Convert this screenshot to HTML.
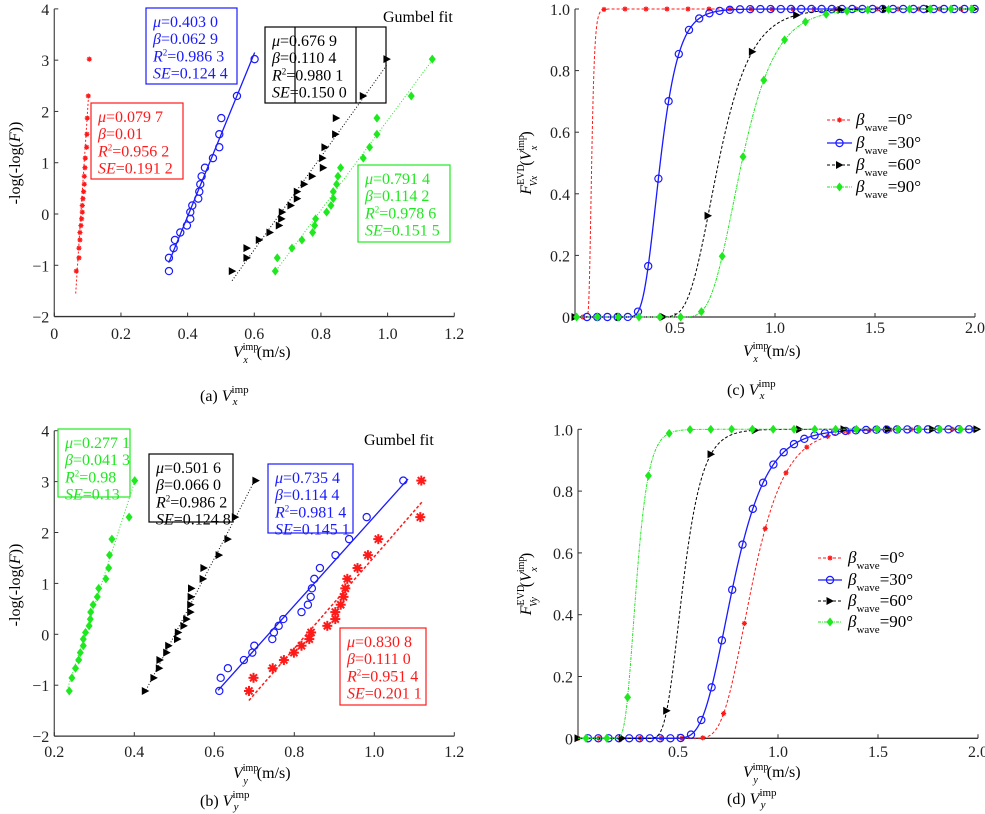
<!DOCTYPE html>
<html><head><meta charset="utf-8"><style>
html,body{margin:0;padding:0;background:#fff;}
svg{display:block;}
svg text{font-family:"Liberation Serif","DejaVu Serif",serif;}
</style></head><body>
<svg id="fig" xmlns="http://www.w3.org/2000/svg" width="985" height="814" viewBox="0 0 985 814" font-family="'Liberation Serif', 'DejaVu Serif', serif">
<rect width="985" height="814" fill="#fff"/>
</svg>
<script>
// ---------- DATA ----------
const reducedY = [-1.113,-0.855,-0.666,-0.506,-0.361,-0.225,-0.094,0.036,0.166,0.299,0.436,0.581,0.735,0.903,1.089,1.302,1.555,1.870,2.302,3.020];
const aRed   = [0.066,0.074,0.074,0.077,0.077,0.080,0.082,0.084,0.084,0.086,0.088,0.090,0.090,0.092,0.093,0.097,0.098,0.099,0.102,0.105];
const aBlue  = [0.344,0.344,0.358,0.362,0.378,0.398,0.408,0.408,0.414,0.432,0.435,0.438,0.442,0.452,0.476,0.495,0.495,0.501,0.548,0.601];
const aBlack = [0.534,0.578,0.578,0.615,0.647,0.675,0.682,0.684,0.710,0.729,0.729,0.750,0.774,0.807,0.805,0.812,0.844,0.846,0.927,0.998];
const aGreen = [0.663,0.669,0.713,0.743,0.775,0.781,0.784,0.817,0.830,0.837,0.837,0.847,0.851,0.859,0.927,0.946,0.968,0.968,1.071,1.134];
const bGreen = [0.2375,0.244,0.253,0.261,0.265,0.2725,0.2725,0.278,0.287,0.290,0.291,0.297,0.3075,0.311,0.329,0.336,0.338,0.344,0.387,0.401];
const bBlack = [0.4275,0.449,0.4625,0.464,0.481,0.486,0.508,0.510,0.524,0.531,0.541,0.541,0.542,0.543,0.572,0.574,0.612,0.634,0.6525,0.704];
const bBlue  = [0.6125,0.616,0.634,0.674,0.695,0.700,0.745,0.749,0.761,0.7725,0.818,0.834,0.841,0.844,0.850,0.864,0.903,0.937,0.981,1.0725];
const bRed   = [0.6867,0.698,0.746,0.774,0.799,0.818,0.8375,0.842,0.8825,0.9025,0.9025,0.916,0.923,0.9275,0.9325,0.958,0.984,1.010,1.115,1.1175];
const muX   = [0.0797,0.4030,0.6769,0.7914];
const betaX = [0.0100,0.0629,0.1104,0.1142];
const muY   = [0.8308,0.7354,0.5016,0.2771];
const betaY = [0.1110,0.1144,0.0660,0.0413];
const aFitRange = [[-1.55,2.3],[-0.95,3.15],[-1.3,2.9],[-1.15,3.0]];
const bFitRange = [[-1.3,2.6],[-1.1,3.05],[-1.15,3.05],[-1.1,3.0]];
const abYTicks = [-2,-1,0,1,2,3,4];
const aXTicks = [0,0.2,0.4,0.6,0.8,1.0,1.2];
const aXLabels = ["0","0.2","0.4","0.6","0.8","1.0","1.2"];
const bXTicks = [0.2,0.4,0.6,0.8,1.0,1.2];
const bXLabels = ["0.2","0.4","0.6","0.8","1.0","1.2"];
const cdXTicks = [0.5,1.0,1.5,2.0];
const cdXLabels = ["0.5","1.0","1.5","2.0"];
const cdYTicks = [0,0.2,0.4,0.6,0.8,1.0];
const cdYLabels = ["0","0.2","0.4","0.6","0.8","1.0"];

// ---------- HELPERS ----------
const NS="http://www.w3.org/2000/svg";
const FF="'Liberation Serif', 'DejaVu Serif', serif";
const svg=document.getElementById('fig');
function mk(tag,attrs,parent){const e=document.createElementNS(NS,tag);if(tag==='text')e.setAttribute('font-family',FF);for(const k in attrs)e.setAttribute(k,attrs[k]);(parent||svg).appendChild(e);return e;}
const COL={red:'#ff1a1a',blue:'#1a1aff',black:'#000',green:'#1ee81e'};

function marker(g,type,x,y,c,big){
  let e;
  if(type==='star'){
    const s=big?5:2.6;
    e=mk('g',{},g);
    mk('circle',{cx:x,cy:y,r:big?2.6:1.8,fill:c},e);
    for(let k=0;k<4;k++){const a=k*Math.PI/4;mk('line',{x1:x-s*Math.cos(a),y1:y-s*Math.sin(a),x2:x+s*Math.cos(a),y2:y+s*Math.sin(a),stroke:c,'stroke-width':big?2:1.1},e);}
  }else if(type==='circle'){
    e=mk('circle',{cx:x,cy:y,r:3.6,fill:'none',stroke:c,'stroke-width':1.2},g);
  }else if(type==='tri'){
    e=mk('polygon',{points:`${x-3.5},${y-4} ${x+4},${y} ${x-3.5},${y+4}`,fill:c},g);
  }else{
    e=mk('polygon',{points:`${x},${y-4.5} ${x+3.5},${y} ${x},${y+4.5} ${x-3.5},${y}`,fill:c},g);
  }
  
  
}

function axes(p,name){
  const g=mk('g',{});
  
  
  mk('line',{x1:p.X(p.xmin),y1:p.Y(p.ymin),x2:p.X(p.xmax),y2:p.Y(p.ymin),stroke:'#333','stroke-width':1.3},g);
  mk('line',{x1:p.X(p.xmin),y1:p.Y(p.ymin),x2:p.X(p.xmin),y2:p.Y(p.ymax),stroke:'#555','stroke-width':1.3},g);
  p.xt.forEach((v,i)=>{
    mk('line',{x1:p.X(v),y1:p.Y(p.ymin),x2:p.X(v),y2:p.Y(p.ymin)-4,stroke:'#333','stroke-width':1},g);
    const t=mk('text',{x:p.X(v),y:p.xtb,'text-anchor':'middle','font-size':16,fill:'#222'},g);t.textContent=p.xl[i];
    
    
  });
  p.yt.forEach((v,i)=>{
    mk('line',{x1:p.X(p.xmin),y1:p.Y(v),x2:p.X(p.xmin)+4,y2:p.Y(v),stroke:'#333','stroke-width':1},g);
    const t=mk('text',{x:p.X(p.xmin)-5,y:p.Y(v)+6,'text-anchor':'end','font-size':16,fill:'#222'},g);t.textContent=p.yl[i];
    
    
  });
}

function scatterPanel(p,series,mus,betas,ranges,name){
  axes(p,name);
  series.forEach((s,si)=>{
    const g=mk('g',{});
    
    
    const r=ranges[si];
    const ln=mk('line',{x1:p.X(mus[si]+betas[si]*r[0]),y1:p.Y(r[0]),x2:p.X(mus[si]+betas[si]*r[1]),y2:p.Y(r[1]),stroke:COL[s.c],'stroke-width':s.w||1,'stroke-dasharray':s.dash||'none'},g);
    
    
    s.d.forEach((x,i)=>marker(g,s.m,p.X(x),p.Y(reducedY[i]),COL[s.c],s.big));
  });
}

function gumbel(x,mu,b){return Math.exp(-Math.exp(-(x-mu)/b));}
function cdfPanel(p,series,mus,betas,name){
  axes(p,name);
  series.forEach((s,si)=>{
    const g=mk('g',{});
    
    
    let d='';
    for(let x=0;x<=2.0001;x+=0.002){d+=(d?'L':'M')+p.X(x).toFixed(2)+','+p.Y(gumbel(x,mus[si],betas[si])).toFixed(2);}
    const pa=mk('path',{d:d,fill:'none',stroke:COL[s.c],'stroke-width':s.w||1,'stroke-dasharray':s.dash||'none'},g);
    
    
    for(let x=s.start;x<=2.0001;x+=s.step){marker(g,s.m,p.X(x),p.Y(gumbel(x,mus[si],betas[si])),COL[s.c]);}
  });
}

function txt(x,y,html,size,col,anchor,name,extra){
  const t=mk('text',Object.assign({x:x,y:y,'font-size':size,fill:col||'#000','text-anchor':anchor||'start'},extra||{}));
  t.innerHTML=html;
  
  
  return t;
}

function statBox(x,y,w,h,col,lines,name,dividers){
  const g=mk('g',{});
  
  
  mk('rect',{x:x,y:y,width:w,height:h,fill:'none',stroke:col,'stroke-width':1.2},g);
  (dividers||[]).forEach(dx=>mk('line',{x1:dx,y1:y,x2:dx,y2:y+h,stroke:col,'stroke-width':1.2},g));
  lines.forEach((l,i)=>{
    const t=mk('text',{x:x+7,y:y+19+i*17.2,'font-size':16,fill:col},g);
    t.innerHTML=l;
  });
}
function statLines(mu,b,r2,se){
  return [`<tspan font-style="italic">μ</tspan>=${mu}`,`<tspan font-style="italic">β</tspan>=${b}`,`<tspan font-style="italic">R</tspan><tspan font-size="9" dy="-6">2</tspan><tspan dy="6">=${r2}</tspan>`,`<tspan font-style="italic">SE</tspan>=${se}`];
}

// ---------- PANEL A ----------
const PA={X:v=>54.3+333.3*v,Y:v=>214-51.28*v,xmin:0,xmax:1.2,ymin:-2,ymax:4,xt:aXTicks,xl:aXLabels,yt:abYTicks,yl:abYTicks.map(v=>v<0?'−'+(-v):String(v)),xtb:339};
scatterPanel(PA,[
 {d:aRed,m:'star',c:'red',dash:'2,2'},
 {d:aBlue,m:'circle',c:'blue',w:1.3},
 {d:aBlack,m:'tri',c:'black',dash:'1,2'},
 {d:aGreen,m:'diamond',c:'green',dash:'1,2'}],muX,betaX,aFitRange,'panel-a');
statBox(146,8,91,76,COL.blue,statLines('0.403 0','0.062 9','0.986 3','0.124 4'),'stats-box-a-30');
statBox(265,27,121,76,'#000',statLines('0.676 9','0.110 4','0.980 1','0.150 0'),'stats-box-a-60',[295,356]);
statBox(91,103,92,76,COL.red,statLines('0.079 7','0.01','0.956 2','0.191 2'),'stats-box-a-0');
statBox(358,165,92,77,COL.green,statLines('0.791 4','0.114 2','0.978 6','0.151 5'),'stats-box-a-90');
txt(383,22,'Gumbel fit',16,'#000','start','fit-title-a');
txt(20,163,'-log(-log(<tspan font-style="italic">F</tspan>))',16,'#000','middle','y-axis-title-a',{transform:'rotate(-90 20 163)'});
txt(233,357,'<tspan font-style="italic">V</tspan><tspan font-size="10" dy="-7">imp</tspan><tspan font-size="10" font-style="italic" dx="-15" dy="13">x</tspan><tspan dx="9" dy="-6">(m/s)</tspan>',16,'#000','start','x-axis-title-a');
txt(200,401,'(a) <tspan font-style="italic">V</tspan><tspan font-size="11" dy="-8">imp</tspan><tspan font-size="11" font-style="italic" dx="-16" dy="12">x</tspan>',16,'#000','start','caption-a');

// ---------- PANEL B ----------
const PB={X:v=>54.3+400*(v-0.2),Y:v=>634.3-50.9*v,xmin:0.2,xmax:1.2,ymin:-2,ymax:4,xt:bXTicks,xl:bXLabels,yt:abYTicks,yl:abYTicks.map(v=>v<0?'−'+(-v):String(v)),xtb:757};
scatterPanel(PB,[
 {d:bRed,m:'star',c:'red',dash:'3,2',w:1.5,big:true},
 {d:bBlue,m:'circle',c:'blue',w:1.3},
 {d:bBlack,m:'tri',c:'black',dash:'1,2'},
 {d:bGreen,m:'diamond',c:'green',dash:'1,2'}],muY,betaY,bFitRange,'panel-b');
statBox(58,429,72,68,COL.green,statLines('0.277 1','0.041 3','0.98','0.13'),'stats-box-b-90');
statBox(149,454,84,68,'#000',statLines('0.501 6','0.066 0','0.986 2','0.124 8'),'stats-box-b-60');
statBox(268,464,85,69,COL.blue,statLines('0.735 4','0.114 4','0.981 4','0.145 1'),'stats-box-b-30');
statBox(340,628,86,77,COL.red,statLines('0.830 8','0.111 0','0.951 4','0.201 1'),'stats-box-b-0');
txt(364,445,'Gumbel fit',16,'#000','start','fit-title-b');
txt(20,585,'-log(-log(<tspan font-style="italic">F</tspan>))',16,'#000','middle','y-axis-title-b',{transform:'rotate(-90 20 585)'});
txt(233,778,'<tspan font-style="italic">V</tspan><tspan font-size="10" dy="-7">imp</tspan><tspan font-size="10" font-style="italic" dx="-15" dy="13">y</tspan><tspan dx="9" dy="-6">(m/s)</tspan>',16,'#000','start','x-axis-title-b');
txt(200,806,'(b) <tspan font-style="italic">V</tspan><tspan font-size="11" dy="-8">imp</tspan><tspan font-size="11" font-style="italic" dx="-16" dy="12">y</tspan>',16,'#000','start','caption-b');

// ---------- PANEL C / D ----------
const PC={X:v=>575+200*v,Y:v=>317-308*v,xmin:0,xmax:2,ymin:0,ymax:1,xt:cdXTicks,xl:cdXLabels,yt:cdYTicks,yl:cdYLabels,xtb:333};
const cStyles=[
 {m:'star',c:'red',dash:'3,2',start:0.04,step:0.105},
 {m:'circle',c:'blue',w:1.3,start:0.06,step:0.051},
 {m:'tri',c:'black',dash:'3,2',start:0.0,step:0.2217},
 {m:'diamond',c:'green',dash:'3,1,1,1',start:0.008,step:0.104}];
cdfPanel(PC,cStyles,muX,betaX,'panel-c');
const dStyles=[
 {m:'star',c:'red',dash:'3,2',start:0.0,step:0.104},
 {m:'circle',c:'blue',w:1.3,start:0.05,step:0.0515},
 {m:'tri',c:'black',dash:'3,2',start:0.0,step:0.2217},
 {m:'diamond',c:'green',dash:'3,1,1,1',start:0.04,step:0.104}];
const PD={X:v=>578+200*v,Y:v=>738.3-309*v,xmin:0,xmax:2,ymin:0,ymax:1,xt:cdXTicks,xl:cdXLabels,yt:cdYTicks,yl:cdYLabels,xtb:757};
cdfPanel(PD,dStyles,muY,betaY,'panel-d');

function legend(x0,x1,tx,ys,styles,name){
  const labels=['0°','30°','60°','90°'];
  styles.forEach((s,i)=>{
    const g=mk('g',{});
    
    
    mk('line',{x1:x0,y1:ys[i],x2:x1,y2:ys[i],stroke:COL[s.c],'stroke-width':s.w||1,'stroke-dasharray':s.dash||'none'},g);
    marker(g,s.m,(x0+x1)/2,ys[i],COL[s.c]);
    const t=mk('text',{x:tx,y:ys[i]+5,'font-size':17},g);
    t.innerHTML=`<tspan font-style="italic">β</tspan><tspan font-size="11" dy="6">wave</tspan><tspan dy="-6">=${labels[i]}</tspan>`;
  });
}
legend(827,852,856,[120,143,165,187],cStyles,'legend-c');
legend(818,842,848,[558,580,601,622],dStyles,'legend-d');

txt(531,163,'<tspan font-style="italic">F</tspan><tspan font-size="10" dy="-7">EVD</tspan><tspan font-size="10" font-style="italic" dx="-22" dy="13">Vx</tspan><tspan dx="10" dy="-6">(</tspan><tspan font-style="italic">V</tspan><tspan font-size="10" dy="-7">imp</tspan><tspan font-size="10" font-style="italic" dx="-15" dy="13">x</tspan><tspan dx="9" dy="-6">)</tspan>',16,'#000','middle','y-axis-title-c',{transform:'rotate(-90 531 163)'});
txt(531,584,'<tspan font-style="italic">F</tspan><tspan font-size="10" dy="-7">EVD</tspan><tspan font-size="10" font-style="italic" dx="-22" dy="13">Vy</tspan><tspan dx="10" dy="-6">(</tspan><tspan font-style="italic">V</tspan><tspan font-size="10" dy="-7">imp</tspan><tspan font-size="10" font-style="italic" dx="-15" dy="13">x</tspan><tspan dx="9" dy="-6">)</tspan>',16,'#000','middle','y-axis-title-d',{transform:'rotate(-90 531 584)'});
txt(743,356,'<tspan font-style="italic">V</tspan><tspan font-size="10" dy="-7">imp</tspan><tspan font-size="10" font-style="italic" dx="-15" dy="13">x</tspan><tspan dx="9" dy="-6">(m/s)</tspan>',16,'#000','start','x-axis-title-c');
txt(743,777,'<tspan font-style="italic">V</tspan><tspan font-size="10" dy="-7">imp</tspan><tspan font-size="10" font-style="italic" dx="-15" dy="13">y</tspan><tspan dx="9" dy="-6">(m/s)</tspan>',16,'#000','start','x-axis-title-d');
txt(727,395,'(c) <tspan font-style="italic">V</tspan><tspan font-size="11" dy="-8">imp</tspan><tspan font-size="11" font-style="italic" dx="-16" dy="12">x</tspan>',16,'#000','start','caption-c');
txt(727,804,'(d) <tspan font-style="italic">V</tspan><tspan font-size="11" dy="-8">imp</tspan><tspan font-size="11" font-style="italic" dx="-16" dy="12">y</tspan>',16,'#000','start','caption-d');
</script>
</body></html>
